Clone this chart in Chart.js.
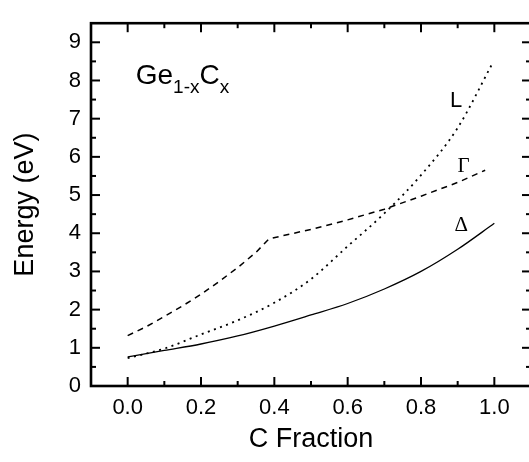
<!DOCTYPE html>
<html>
<head>
<meta charset="utf-8">
<script src="https://cdn.jsdelivr.net/npm/chart.js@4/dist/chart.umd.min.js"></script>
<style>
  html, body { margin: 0; padding: 0; background: #fff; overflow: hidden; }
  canvas { display: block; }
</style>
</head>
<body>
<canvas id="myCanvas" width="533" height="462"></canvas>
<script>
// band energies of Ge(1-x)C(x)
const deltaX = [0, 0.1, 0.2, 0.3, 0.4, 0.5, 0.6, 0.7, 0.8, 0.9, 1.0];
const deltaE = [0.76, 0.93, 1.1, 1.31, 1.57, 1.86, 2.16, 2.54, 3.0, 3.58, 4.26];

const lX = [0, 0.1, 0.2, 0.3, 0.4, 0.5, 0.6, 0.7, 0.8, 0.9, 0.995];
const lE = [0.73, 0.98, 1.35, 1.72, 2.18, 2.8, 3.66, 4.52, 5.52, 6.76, 8.45];

const gammaX = [0, 0.05, 0.1, 0.15, 0.2, 0.25, 0.3, 0.35, 0.385, 0.42, 0.5, 0.6, 0.7, 0.8, 0.9, 0.975];
const gammaE = [1.32, 1.55, 1.82, 2.1, 2.4, 2.74, 3.1, 3.5, 3.85, 3.93, 4.1, 4.35, 4.63, 4.97, 5.33, 5.65];

const xTicks = [0, 0.2, 0.4, 0.6, 0.8, 1.0];
const xMinor = [0.1, 0.3, 0.5, 0.7, 0.9];
const yTicks = [0, 1, 2, 3, 4, 5, 6, 7, 8, 9];
const yMinor = [0.5, 1.5, 2.5, 3.5, 4.5, 5.5, 6.5, 7.5, 8.5];

const pts = (xs, ys) => xs.map((v, i) => ({ x: v, y: ys[i] }));

const SANS = "'Liberation Sans', Arial, Helvetica, sans-serif";
const SERIF = "'Liberation Serif', 'Times New Roman', serif";

// box round the plot with inward ticks on all four sides
const frame = {
    id: "frame",
    afterDraw(chart) {
        const { ctx, chartArea: a, scales: { x, y } } = chart;
        ctx.save();
        ctx.strokeStyle = "#000";
        ctx.lineWidth = 2;
        const tick = (x1, y1, x2, y2) => {
            ctx.beginPath();
            ctx.moveTo(x1, y1);
            ctx.lineTo(x2, y2);
            ctx.stroke();
        };
        xTicks.forEach((v) => {
            const px = x.getPixelForValue(v);
            tick(px, a.bottom, px, a.bottom - 9);
            tick(px, a.top, px, a.top + 9);
        });
        xMinor.forEach((v) => {
            const px = x.getPixelForValue(v);
            tick(px, a.bottom, px, a.bottom - 5);
            tick(px, a.top, px, a.top + 5);
        });
        yTicks.forEach((v) => {
            const py = y.getPixelForValue(v);
            tick(a.left, py, a.left + 9, py);
            tick(a.right, py, a.right - 9, py);
        });
        yMinor.forEach((v) => {
            const py = y.getPixelForValue(v);
            tick(a.left, py, a.left + 5, py);
            tick(a.right, py, a.right - 5, py);
        });
        ctx.lineWidth = 2.6;
        ctx.strokeRect(a.left, a.top, a.right - a.left, a.bottom - a.top);
        ctx.restore();
    },
};

// curve names and the alloy formula
const labels = {
    id: "labels",
    afterDraw(chart) {
        const { ctx, scales: { x, y } } = chart;
        ctx.save();
        ctx.fillStyle = "#000";
        ctx.textBaseline = "alphabetic";

        let px = x.getPixelForValue(0.022);
        const base = y.getPixelForValue(7.92);
        const part = (txt, size, dy) => {
            ctx.font = size + "px " + SANS;
            ctx.fillText(txt, px, base + dy);
            px += ctx.measureText(txt).width;
        };
        part("Ge", 28, 0);
        part("1-x", 19, 9);
        part("C", 28, 0);
        part("x", 19, 9);

        ctx.textAlign = "center";
        ctx.textBaseline = "middle";
        ctx.font = "22px " + SANS;
        ctx.fillText("L", x.getPixelForValue(0.896), y.getPixelForValue(7.47));
        ctx.font = "21px " + SERIF;
        ctx.fillText("\u0393", x.getPixelForValue(0.916), y.getPixelForValue(5.75));
        ctx.fillText("\u0394", x.getPixelForValue(0.91), y.getPixelForValue(4.2));
        ctx.restore();
    },
};

new Chart(document.getElementById("myCanvas"), {
    type: "scatter",
    data: {
        datasets: [
            {
                label: "Delta",
                data: pts(deltaX, deltaE),
                showLine: true,
                borderColor: "#000",
                borderWidth: 1.3,
                pointRadius: 0,
                cubicInterpolationMode: "monotone",
            },
            {
                label: "L",
                data: pts(lX, lE),
                showLine: true,
                borderColor: "#000",
                borderWidth: 1.8,
                borderDash: [2, 4.5],
                pointRadius: 0,
                cubicInterpolationMode: "monotone",
            },
            {
                label: "Gamma",
                data: pts(gammaX, gammaE),
                showLine: true,
                borderColor: "#000",
                borderWidth: 1.5,
                borderDash: [6, 5],
                pointRadius: 0,
                tension: 0,
            },
        ],
    },
    options: {
        responsive: false,
        animation: false,
        events: [],
        layout: { padding: { top: 10, right: 2, left: 0, bottom: 0 } },
        plugins: { legend: false, tooltip: { enabled: false } },
        scales: {
            x: {
                type: "linear",
                min: -0.1,
                max: 1.1,
                afterBuildTicks: (s) => { s.ticks = xTicks.map((v) => ({ value: v })); },
                afterFit: (s) => { s.height = 76; },
                grid: { display: false, drawTicks: false },
                border: { display: false },
                ticks: {
                    padding: 9,
                    color: "#000",
                    font: { family: SANS, size: 22 },
                    maxRotation: 0,
                    autoSkip: false,
                    callback: (v) => Number(v).toFixed(1),
                },
                title: {
                    display: true,
                    text: "C Fraction",
                    color: "#000",
                    font: { family: SANS, size: 27 },
                    padding: { top: 0, bottom: 6 },
                },
            },
            y: {
                type: "linear",
                min: 0,
                max: 9.5,
                afterBuildTicks: (s) => { s.ticks = yTicks.map((v) => ({ value: v })); },
                afterFit: (s) => { s.width = 91; },
                grid: { display: false, drawTicks: false },
                border: { display: false },
                ticks: {
                    padding: 10,
                    color: "#000",
                    font: { family: SANS, size: 22 },
                    autoSkip: false,
                },
                title: {
                    display: true,
                    text: "Energy (eV)",
                    color: "#000",
                    font: { family: SANS, size: 27 },
                    padding: { top: 9, bottom: 0 },
                },
            },
        },
    },
    plugins: [frame, labels],
});
</script>
</body>
</html>
